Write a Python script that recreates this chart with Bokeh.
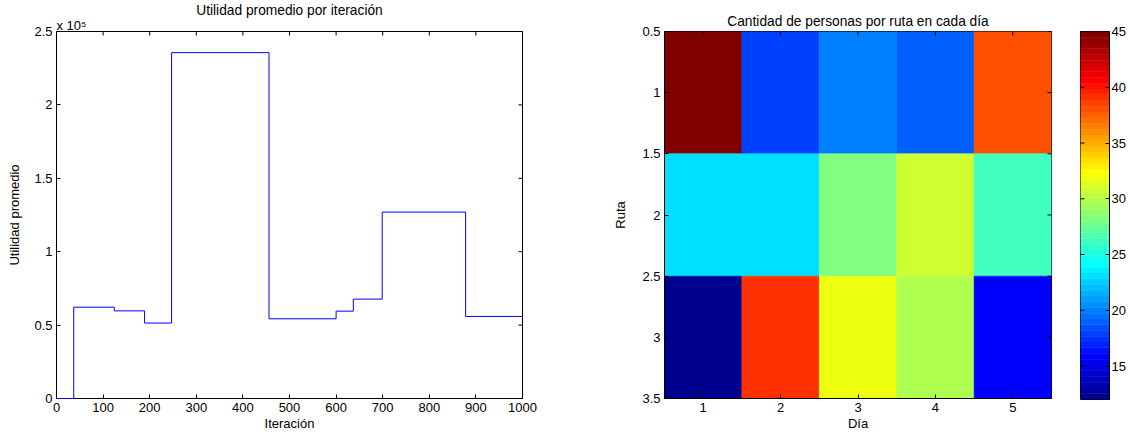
import numpy as np
from bokeh.plotting import figure
from bokeh.models import (Range1d, FixedTicker, CustomJSTickFormatter,
                          Title, ColumnDataSource)
from bokeh.layouts import row
from bokeh.transform import linear_cmap
from bokeh.embed import file_html
from bokeh.resources import INLINE

# Average utility per iteration (value holds until the next change point)
iteracion = [0, 37, 124, 189, 247, 456, 600, 637, 699, 878, 1000]
utilidad = [0, 62200, 59700, 51400, 235600, 54300, 59500, 67700, 127000, 55900, 55900]

# People per route (rows) on each day (columns)
dias = [1, 2, 3, 4, 5]
rutas = [1, 2, 3]
personas = [
    [45, 18, 20, 19, 38],
    [23, 23, 28, 31, 26],
    [12, 39, 32, 30, 16],
]

util_ticks = [0, 50000, 100000, 150000, 200000, 250000]
iter_ticks = list(range(0, 1001, 100))
ruta_ticks = [0.5, 1, 1.5, 2, 2.5, 3, 3.5]
cbar_ticks = [15, 20, 25, 30, 35, 40, 45]

FONT = "Liberation Sans"
TICK_SIZE = "13px"
TITLE_SIZE = "13.75px"
TICK_LEN = 4


def jet(m=64):
    n = int(np.ceil(m / 4))
    u = np.concatenate([np.arange(1, n + 1) / n, np.ones(n - 1), np.arange(n, 0, -1) / n])
    g = int(np.ceil(n / 2)) - (1 if m % 4 == 1 else 0) + np.arange(1, len(u) + 1)
    r = g + n
    b = g - n
    J = np.zeros((m, 3))
    for i in range(len(u)):
        if 1 <= g[i] <= m:
            J[g[i] - 1, 1] = u[i]
        if 1 <= r[i] <= m:
            J[r[i] - 1, 0] = u[i]
        if 1 <= b[i] <= m:
            J[b[i] - 1, 2] = u[i]
    return ["#%02x%02x%02x" % tuple(int(round(c * 255)) for c in rgb) for rgb in J]


JET = jet(64)


def style_axis(ax):
    ax.axis_line_color = "black"
    ax.axis_line_width = 1
    ax.major_tick_in = TICK_LEN
    ax.major_tick_out = 0
    ax.major_tick_line_color = "black"
    ax.minor_tick_line_color = None
    ax.major_label_text_font = FONT
    ax.major_label_text_color = "black"
    ax.major_label_text_font_size = TICK_SIZE
    ax.major_label_standoff = 4
    ax.axis_label_text_font = FONT
    ax.axis_label_text_font_size = TICK_SIZE
    ax.axis_label_text_font_style = "normal"
    ax.axis_label_text_color = "black"


def mirror_ticks(p, xticks=None, yticks=None, side="right"):
    """Inward tick marks on the top edge and on the given vertical edge."""
    xr, yr = p.x_range, p.y_range
    fw, fh = p.frame_width, p.frame_height
    dy = (yr.start - yr.end) * TICK_LEN / fh
    if xticks:
        p.segment(x0=xticks, y0=[yr.end] * len(xticks), x1=xticks,
                  y1=[yr.end + dy] * len(xticks), line_color="black", line_width=1,
                  level="overlay")
    if yticks:
        if side == "right":
            x0, dx = xr.end, (xr.start - xr.end) * TICK_LEN / fw
        else:
            x0, dx = xr.start, (xr.end - xr.start) * TICK_LEN / fw
        p.segment(x0=[x0] * len(yticks), y0=yticks, x1=[x0 + dx] * len(yticks),
                  y1=yticks, line_color="black", line_width=1, level="overlay")


def style_fig(p):
    p.xgrid.visible = False
    p.ygrid.visible = False
    p.outline_line_color = "black"
    p.background_fill_color = "white"
    p.border_fill_color = "white"
    p.title.text_font = FONT
    p.title.text_font_size = TITLE_SIZE
    p.title.text_font_style = "normal"
    p.title.text_color = "black"
    p.title.align = "center"
    p.title.standoff = 0
    p.title.offset = 0


# ---- Left: step line of average utility ----
p1 = figure(frame_width=466, frame_height=367,
            x_range=Range1d(0, 1000), y_range=Range1d(0, 250000),
            output_backend="svg", toolbar_location=None,
            min_border_left=56, min_border_right=78,
            min_border_top=31, min_border_bottom=41,
            title="Utilidad promedio por iteración")
style_fig(p1)
p1.step(iteracion, utilidad, mode="after", line_color="#0000ff", line_width=1,
        level="overlay")
p1.xaxis.ticker = FixedTicker(ticks=iter_ticks)
p1.yaxis.ticker = FixedTicker(ticks=util_ticks)
p1.yaxis.formatter = CustomJSTickFormatter(code="return String(Math.round(tick / 1e4) / 10);")
p1.xaxis.axis_label = "Iteración"
p1.yaxis.axis_label = "Utilidad promedio"
for a in p1.xaxis + p1.yaxis:
    style_axis(a)
p1.xaxis.axis_label_standoff = 1
p1.yaxis.axis_label_standoff = 9
mirror_ticks(p1, iter_ticks, util_ticks)
# axis exponent shown above the top-left corner
p1.add_layout(Title(text="x 10\u2075", align="left", text_font=FONT,
                    text_font_size=TICK_SIZE, text_font_style="normal",
                    text_color="black", offset=0, standoff=-3), "above")

# ---- Right: heatmap of people per route and day ----
lo, hi = 12, 45
xs, ys, vs = [], [], []
for i, r in enumerate(rutas):
    for j, d in enumerate(dias):
        xs.append(d)
        ys.append(r)
        vs.append(personas[i][j])
cells = ColumnDataSource(dict(x=xs, y=ys, v=vs))

p2 = figure(frame_width=387, frame_height=367,
            x_range=Range1d(0.5, 5.5), y_range=Range1d(3.5, 0.5),
            output_backend="svg", toolbar_location=None,
            min_border_left=64, min_border_right=29,
            min_border_top=31, min_border_bottom=41,
            title="Cantidad de personas por ruta en cada día")
style_fig(p2)
p2.title.standoff = 5
cmap = linear_cmap("v", JET, lo, hi)
p2.rect(x="x", y="y", width=1, height=1,
        fill_color=cmap, line_color=cmap, line_width=0.5,
        source=cells)
p2.xaxis.ticker = FixedTicker(ticks=dias)
p2.yaxis.ticker = FixedTicker(ticks=ruta_ticks)
p2.xaxis.axis_label = "Día"
p2.yaxis.axis_label = "Ruta"
for a in p2.xaxis + p2.yaxis:
    style_axis(a)
p2.xaxis.axis_label_standoff = 1
p2.yaxis.axis_label_standoff = 11
mirror_ticks(p2, dias, ruta_ticks)

# ---- Colour bar ----
p3 = figure(frame_width=29, frame_height=368,
            x_range=Range1d(0, 1), y_range=Range1d(lo, hi),
            output_backend="svg", toolbar_location=None,
            y_axis_location="right",
            min_border_left=0, min_border_right=21,
            min_border_top=31, min_border_bottom=40)
style_fig(p3)
levels = np.linspace(lo, hi, len(JET) + 1)
p3.quad(left=0, right=1, bottom=levels[:-1], top=levels[1:],
        fill_color=JET, line_color=JET, line_width=0.5)
p3.xaxis.visible = False
p3.yaxis.ticker = FixedTicker(ticks=cbar_ticks)
for a in p3.yaxis:
    style_axis(a)
    a.major_label_standoff = 2
mirror_ticks(p3, None, cbar_ticks, side="left")

layout = row(p1, p2, p3)
open("out.html", "w").write(file_html(layout, INLINE))
